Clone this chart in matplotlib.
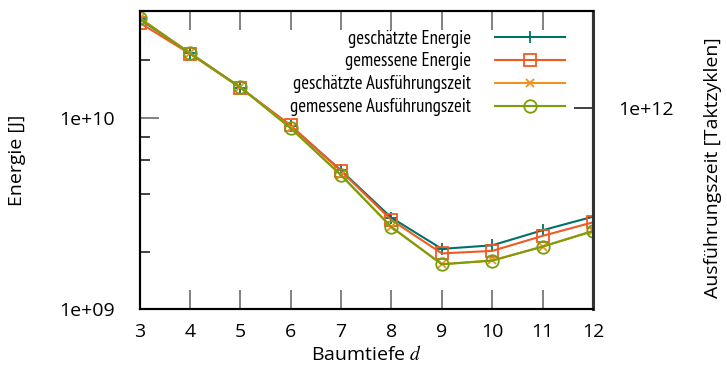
import matplotlib
matplotlib.use("Agg")
import matplotlib.pyplot as plt
import matplotlib.ticker as mticker
from matplotlib import font_manager as fm

plt.rcParams['font.family'] = ['Open Sans', 'DejaVu Sans']
plt.rcParams['mathtext.fontset'] = 'stix'

depth = [3, 4, 5, 6, 7, 8, 9, 10, 11, 12]
energy_est = [3.29e10, 2.19e10, 1.444e10, 9.08e9, 5.32e9, 3.01e9, 2.07e9, 2.16e9, 2.59e9, 3.05e9]
energy_meas = [3.15e10, 2.17e10, 1.44e10, 9.16e9, 5.28e9, 2.93e9, 1.96e9, 2.02e9, 2.42e9, 2.85e9]
time_est = [2.95e12, 1.93e12, 1.28e12, 7.85e11, 4.45e11, 2.38e11, 1.52e11, 1.59e11, 1.88e11, 2.27e11]
time_meas = [2.93e12, 1.925e12, 1.278e12, 7.80e11, 4.43e11, 2.37e11, 1.518e11, 1.585e11, 1.877e11, 2.26e11]
labels = ['geschätzte Energie', 'gemessene Energie',
          'geschätzte Ausführungszeit', 'gemessene Ausführungszeit']

c_teal = '#00726a'
c_red = '#f05a23'
c_orange = '#f0921e'
c_green = '#7a9e0a'

fig = plt.figure(figsize=(7.27, 3.78), dpi=100)
ax = fig.add_axes([139.5/727, 1 - 309.3/378, (593-139.5)/727, (309.3-10.7)/378])
ax2 = ax.twinx()

h1, = ax.plot(depth, energy_est, color=c_teal, marker='+', ms=9, mew=1.3, lw=1.5)
h2, = ax.plot(depth, energy_meas, color=c_red, marker='s', ms=9, mfc='none', mew=1.3, lw=1.5)
h3, = ax2.plot(depth, time_est, color=c_orange, marker='x', ms=6, mew=1.3, lw=1.5)
h4, = ax2.plot(depth, time_meas, color=c_green, marker='o', ms=9, mfc='none', mew=1.3, lw=1.5)

ax.set_yscale('log')
ax2.set_yscale('log')
ax.set_xlim(3, 12)
ax.set_ylim(1e9, 3.64e10)
ax2.set_ylim(8.83e10, 3.21e12)

ax.set_xticks(depth)
ax.set_xticklabels([str(d) for d in depth])
ax.set_yticks([1e9, 1e10])
ax.set_yticklabels(['1e+09', '1e+10'])
ax.set_yticks([2e9, 4e9, 6e9, 8e9, 2e10], minor=True)
ax.yaxis.set_minor_formatter(mticker.NullFormatter())
ax2.set_yticks([1e12])
ax2.set_yticklabels(['1e+12'])
ax2.set_yticks([], minor=True)

ax.tick_params(axis='both', which='major', direction='in', length=14, width=1.3,
               color='#777777', labelsize=14, top=True)
ax.tick_params(axis='x', which='major', pad=10)
ax.tick_params(axis='y', which='minor', direction='in', length=7, width=1.3, color='#333333')
ax.tick_params(axis='x', which='minor', bottom=False, top=False)
ax.tick_params(axis='y', which='major', pad=18)
ax2.tick_params(axis='y', which='major', direction='in', length=14, width=1.3,
                color='#333333', labelsize=14, pad=18)

for a in (ax, ax2):
    for s in a.spines.values():
        s.set_linewidth(1.5)
        s.set_color('black')
ax2.spines['right'].set_color('#333333')
ax2.spines['right'].set_linewidth(2.2)

ax.set_ylabel('Energie [J]', fontsize=14)
ax.yaxis.set_label_coords((26 - 139.5) / 453.5, 0.5)
ax2.set_ylabel('Ausführungszeit [Taktzyklen]', fontsize=14)
ax2.yaxis.set_label_coords((704 - 139.5) / 453.5, (309.3 - 168) / 298.6)
ax.set_xlabel('Baumtiefe $d$', fontsize=14)
ax.xaxis.set_label_coords(0.5, -(345 - 309.3) / 298.6)

fs = 13.5
leg = ax2.legend([h1, h2, h3, h4], labels, loc='upper right',
                 bbox_to_anchor=(565/727, 1 - 29.5/378), bbox_transform=fig.transFigure,
                 frameon=False, markerfirst=False, handlelength=3.73, handletextpad=1.28,
                 labelspacing=0.26, borderaxespad=0, borderpad=0,
                 prop=fm.FontProperties(family=['PT Sans Narrow', 'DejaVu Sans'], size=fs))
try:
    leg.set_alignment('right')
except Exception:
    leg._legend_box.align = 'right'

fig.savefig('out.png', dpi=100)
